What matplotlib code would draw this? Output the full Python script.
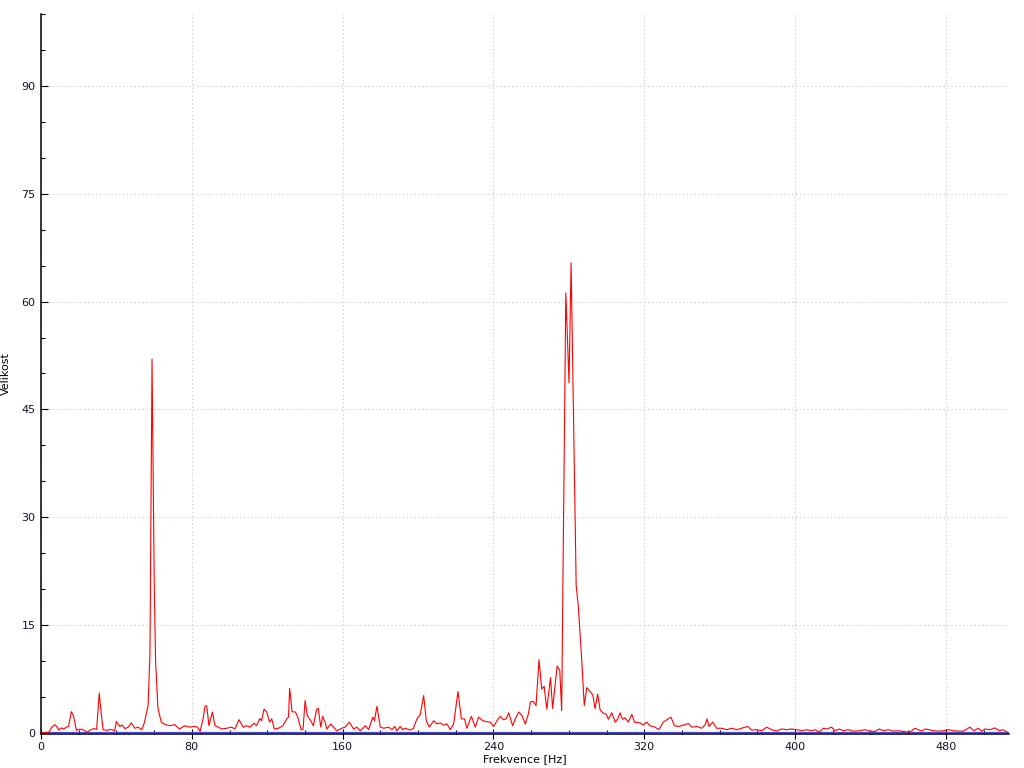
import numpy as np
import matplotlib
matplotlib.use("Agg")
import matplotlib.pyplot as plt
from matplotlib.ticker import MultipleLocator

# frekvence [Hz] a velikost spektra
freq_low = [0, 2, 4.2, 5.5, 7.3, 8.3, 9.4, 10.8, 12, 13.5, 14.6, 16.1, 17.2, 18.8, 20, 22,
            24.5, 26, 28, 29.5, 30.9, 32, 33, 35, 37, 39, 40, 41.8, 43, 44.5, 46.3, 47.9,
            49.7, 51.4, 53.5, 54.9, 56.8, 57.8, 58.9, 60.1, 60.8, 62, 63.8, 65.6, 68.3,
            70.9, 73.5, 76.2, 78.8, 81.5, 83, 84.4]
mag_low = [0.05, 0.05, 0.1, 0.7, 1.15, 0.9, 0.4, 0.7, 0.55, 0.8, 0.9, 2.95, 2.4, 0.35, 0.5, 0.5,
           0.1, 0.4, 0.6, 0.5, 5.55, 2.5, 0.45, 0.35, 0.5, 0.3, 1.6, 0.9, 1.1, 0.6, 0.8, 1.4,
           0.65, 0.8, 0.45, 1.5, 3.8, 11, 52, 20, 10, 3.5, 1.5, 1.2, 1.0,
           1.15, 0.55, 1.0, 0.8, 0.9, 0.8, 0.2]

freq_mid = [86, 87, 87.9, 89.1, 90.9, 92.3, 94.1, 95.8, 98.5, 101.1, 102.9, 105, 107.3, 109.1,
            110.8, 113.1, 114.3, 116.1, 117, 118.3, 119.8, 121.2, 122.4, 123.8, 126, 128.3,
            130.4, 131.3, 131.9, 133.2, 135, 136.2, 138, 139, 140.1, 141.3, 143.1, 144.5,
            146.2, 147.1, 148.4, 149.4, 150.7, 151.6, 153.7, 155.2, 156.9, 159.6, 161.3,
            163.6, 165.8, 167.6, 169.3, 172.1, 173.8, 176, 176.9, 178.2, 180, 181.8, 184.4,
            186.2, 187.6, 188.8, 190.6, 191.8, 193.2, 195.8, 197.6, 199.4, 201.1, 203, 204.4,
            206, 208.3, 210.1, 211.8, 213.6, 215.4, 217.1, 218.9, 221.2, 223, 224.7, 225.9,
            228.3, 230.4, 232.1, 234.3, 236.6, 238.3, 240.1, 241.9, 243.6, 245.4, 246.7,
            248.1, 250.2, 251.6, 253.4, 255.2, 256.9]
mag_mid = [2.0, 3.7, 3.8, 1.0, 2.9, 1.0, 0.8, 0.55, 0.65, 0.8, 0.55, 1.85, 0.8, 1.0,
           0.8, 1.35, 1.0, 2.0, 1.7, 3.3, 2.9, 1.5, 1.95, 0.55, 0.65, 1.0,
           1.95, 2.2, 6.2, 2.95, 2.9, 2.2, 0.45, 0.5, 4.5, 2.4, 1.7, 1.0,
           3.3, 3.4, 0.8, 2.3, 1.5, 0.55, 1.25, 0.8, 0.3, 0.65, 0.8,
           1.5, 0.55, 0.8, 0.3, 1.0, 0.45, 2.2, 1.7, 3.7, 0.8, 0.65, 0.8,
           0.45, 0.9, 0.3, 0.9, 0.45, 0.65, 0.4, 0.65, 1.95, 2.5, 5.2, 1.7,
           0.8, 1.7, 1.25, 1.4, 1.1, 1.25, 0.45, 1.25, 5.75, 1.95, 1.95, 0.65,
           2.3, 0.8, 2.2, 1.7, 1.55, 1.5, 0.9, 1.7, 2.3, 1.85, 1.95,
           2.8, 1.0, 1.95, 2.9, 2.4, 1.25]

freq_peak = [258.5, 259.6, 261, 262.6, 264.2, 265.6, 266.9, 268.3, 270.3, 271.4, 273.8, 275.2,
             276.2, 278.4, 280.1, 281.2, 283.9, 285.0, 286.5, 288.2, 289.5, 291.2, 292.7,
             293.9, 295.3, 296.6, 298, 299.8, 301, 302.8, 304.6, 306, 307.2, 308.5, 309.9,
             311.6, 313.4, 314.8, 317.7, 319.5, 321.3, 323, 325.7, 327.8, 330.1, 334.2]
mag_peak = [2.6, 4.3, 4.4, 3.8, 10.2, 6.1, 6.5, 3.3, 7.7, 3.4, 9.3, 8.7,
            3.1, 61.2, 48.7, 65.4, 20.5, 17.7, 11.7, 3.8, 6.3, 5.8, 5.3,
            3.4, 5.4, 3.2, 2.8, 2.6, 1.9, 2.8, 1.5, 2.0, 2.8, 1.9, 2.1,
            1.5, 2.6, 1.5, 1.4, 1.1, 1.5, 1.0, 0.8, 0.45, 1.5, 2.2]

freq_high = [336, 338.2, 340.8, 343.5, 345.2, 347.9, 350.5, 352.3, 353.3, 354.4, 356.3, 358.4,
             361.1, 363.8, 366.4, 369.1, 371.7, 374.9, 377, 379.7, 382.3, 385, 387.6, 390.3,
             392.9, 395.6, 398.2, 400.9, 403.5, 406.2, 408.8, 410.6, 412.9, 415, 416.8, 419.4,
             421.2, 423.5, 425.6, 428.3, 430.9, 434.5, 437.1, 439.8, 442.4, 444.7, 446.9,
             449.5, 452.2, 454.8, 457.5, 460.1, 461.9, 463.6, 465.4, 467.2, 469, 471.2, 473.4,
             476, 478.7, 481.3, 484, 486.6, 489.3, 492.8, 494.9, 497.2, 499, 500.7, 503.4,
             506, 508.3, 510.4, 512.6]
mag_high = [1.0, 0.9, 1.1, 1.3, 0.8, 0.9, 0.65, 1.1, 1.95, 0.9, 1.5, 0.65,
            0.65, 0.45, 0.65, 0.45, 0.65, 0.9, 0.4, 0.45, 0.3, 0.8, 0.45, 0.25,
            0.55, 0.45, 0.55, 0.45, 0.3, 0.45, 0.3, 0.45, 0.1, 0.65, 0.55, 0.8,
            0.3, 0.55, 0.3, 0.45, 0.25, 0.3, 0.45, 0.25, 0.2, 0.55, 0.3,
            0.45, 0.25, 0.3, 0.2, 0.1, 0.3, 0.65, 0.45, 0.25, 0.55, 0.45, 0.3,
            0.25, 0.3, 0.45, 0.3, 0.25, 0.25, 0.8, 0.3, 0.65, 0.25, 0.55, 0.45,
            0.7, 0.3, 0.45, 0.1]

freq = np.array(freq_low + freq_mid + freq_peak + freq_high)
mag = np.array(mag_low + mag_mid + mag_peak + mag_high)

fig = plt.figure(figsize=(10.24, 7.68), dpi=100)
ax = fig.add_axes([41/1024, 34/768, 968/1024, 720/768])

ax.plot(freq, mag, color='#ff0000', lw=0.8, zorder=3)
ax.axhline(0.12, color='#4a4ad8', lw=0.9, zorder=2)

ax.set_xlim(0, 513.5)
ax.set_ylim(-0.15, 100)
ax.xaxis.set_major_locator(MultipleLocator(80))
ax.xaxis.set_minor_locator(MultipleLocator(20))
ax.yaxis.set_major_locator(MultipleLocator(15))
ax.yaxis.set_minor_locator(MultipleLocator(5))
ax.set_yticks([0, 15, 30, 45, 60, 75, 90])

ax.grid(True, which='major', color='#c4c4c4', lw=0.8, linestyle=(0, (1, 2.5)))
ax.set_axisbelow(True)

for s in ['top', 'right']:
	ax.spines[s].set_visible(False)
for s in ['left', 'bottom']:
	ax.spines[s].set_linewidth(1.1)

ax.tick_params(axis='x', which='major', direction='inout', length=7, width=0.8,
               labelsize=8, labelcolor='#10102a', pad=2)
ax.tick_params(axis='y', which='major', direction='in', length=5, width=0.8,
               labelsize=8, labelcolor='#10102a', pad=4)
ax.tick_params(which='minor', direction='in', length=3, width=0.8)

ax.set_xlabel('Frekvence [Hz]', fontsize=8, labelpad=2)
ax.set_ylabel('Velikost', fontsize=8)
ax.yaxis.set_label_coords(-0.031, 0.5)

fig.savefig('out.png', dpi=100)
